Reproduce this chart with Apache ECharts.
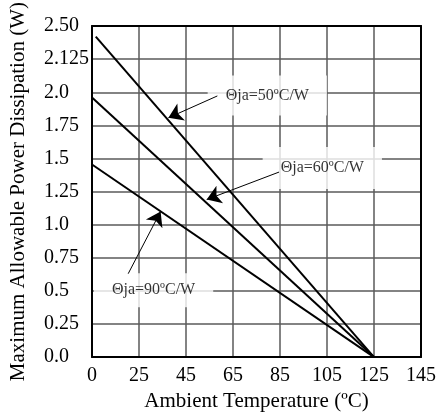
<!DOCTYPE html>
<html>
<head>
<meta charset="utf-8">
<script src="https://cdn.jsdelivr.net/npm/echarts@6/dist/echarts.min.js"></script>
<style>
html,body{margin:0;padding:0;background:#fff;}
#chart{width:439px;height:417px;}
</style>
</head>
<body>
<div id="chart"></div>
<script>
// Tick labels (axis is evenly spaced by tick index)
const xTickLabels = ['0','25','45','65','85','105','125','145'];
const yTickLabels = ['0.0','0.25','0.5','0.75','1.0','1.25','1.5','1.75','2.0','2.125','2.50'];

// Derating lines, in tick-index units [x index, y index]
const theta50 = [[0.08, 9.68], [6, 0]];
const theta60 = [[0, 7.84], [6, 0]];
const theta90 = [[0, 5.82], [6, 0]];

// Annotation label texts and their centres (tick-index units)
const labelTexts = ['Θja=50ºC/W', 'Θja=60ºC/W', 'Θja=90ºC/W'];
const labelPos = [[3.73, 7.905], [4.9, 5.71], [1.31, 2.02]];
const labelPad = [[11, 18], [12, 18], [8, 18]];

// Arrows: [from, to] in tick-index units
const arrows = [
  [[2.667, 7.89], [1.625, 7.23]],
  [[3.98, 5.59], [2.44, 4.76]],
  [[0.77, 2.52], [1.46, 4.40]]
];

const FONT = "'Liberation Serif','Times New Roman',serif";
const chart = echarts.init(document.getElementById('chart'));

const lineSeries = (name, data) => ({
  name, type: 'line', data, showSymbol: false, symbol: 'none',
  lineStyle: { color: '#000', width: 2 }, z: 5, silent: true
});

chart.setOption({
  animation: false,
  backgroundColor: '#fff',
  grid: { left: 90, right: 13, top: 24, bottom: 58, show: false },
  xAxis: [{
    type: 'value', min: 0, max: 7, interval: 1,
    name: 'Ambient Temperature (ºC)', nameLocation: 'middle', nameGap: 33,
    nameTextStyle: { fontFamily: FONT, fontSize: 21, color: '#000' },
    axisLine: { show: true, onZero: false, lineStyle: { color: '#000', width: 2 } },
    axisTick: { show: false },
    axisLabel: { margin: 9, fontFamily: FONT, fontSize: 20, color: '#000',
      formatter: v => xTickLabels[Math.round(v)] },
    splitLine: { show: true, lineStyle: { color: '#5a5a5a', width: 1.5 } }
  }, {
    type: 'value', min: 0, max: 7, position: 'top',
    axisLine: { show: true, onZero: false, lineStyle: { color: '#000', width: 2 } },
    axisTick: { show: false }, axisLabel: { show: false }, splitLine: { show: false }
  }],
  yAxis: [{
    type: 'value', min: 0, max: 10, interval: 1,
    name: 'Maximum Allowable Power Dissipation (W)', nameLocation: 'middle', nameGap: 63,
    nameTextStyle: { fontFamily: FONT, fontSize: 21, color: '#000' },
    axisLine: { show: true, onZero: false, lineStyle: { color: '#000', width: 2 } },
    axisTick: { show: false },
    axisLabel: { margin: 48, align: 'left', fontFamily: FONT, fontSize: 20, color: '#000',
      formatter: v => yTickLabels[Math.round(v)] },
    splitLine: { show: true, lineStyle: { color: '#5a5a5a', width: 1.5 } }
  }, {
    type: 'value', min: 0, max: 10, position: 'right',
    axisLine: { show: true, onZero: false, lineStyle: { color: '#000', width: 2 } },
    axisTick: { show: false }, axisLabel: { show: false }, splitLine: { show: false }
  }],
  series: [
    lineSeries('50', theta50),
    lineSeries('60', theta60),
    lineSeries('90', theta90),
    {
      type: 'scatter', silent: true, z: 3,
      symbol: 'circle', symbolSize: 1,
      itemStyle: { color: 'rgba(0,0,0,0)' },
      data: labelPos.map((p, i) => ({
        value: p,
        label: {
          show: true, position: 'inside', formatter: labelTexts[i],
          fontFamily: FONT, fontSize: 16, color: '#000', lineHeight: 18,
          backgroundColor: '#fff', padding: labelPad[i]
        }
      }))
    },
    {
      type: 'lines', coordinateSystem: 'cartesian2d', silent: true, z: 6,
      symbol: ['none', 'arrow'], symbolSize: [0, 14],
      lineStyle: { color: '#000', width: 1, opacity: 1, curveness: 0 },
      itemStyle: { color: '#000' },
      data: arrows.map(a => ({ coords: a }))
    }
  ]
});
</script>
</body>
</html>
